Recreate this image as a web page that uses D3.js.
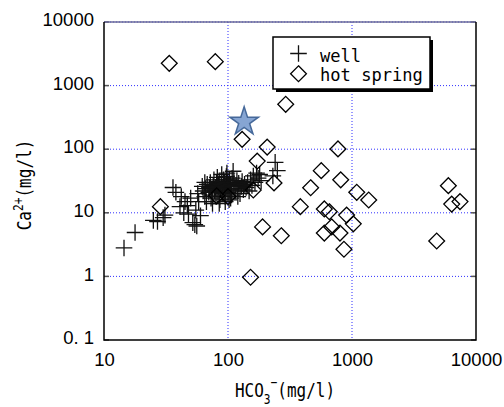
<!DOCTYPE html>
<html>
<head>
<meta charset="utf-8">
<script src="https://cdn.jsdelivr.net/npm/d3@7"></script>
<style>
  html, body { margin: 0; padding: 0; background: #fff; }
  svg { display: block; }
  .tick text { font-family: "Liberation Sans", Arial, sans-serif; font-size: 18.5px; fill: #000; }
  .title { font-family: "DejaVu Sans Mono", monospace; fill: #000; }
</style>
</head>
<body>
<svg id="chart" width="504" height="407"></svg>
<script>
// HCO3- vs Ca2+ concentration (mg/l), log-log
const xTicks = [10, 100, 1000, 10000];
const xTickLabels = ["10", "100", "1000", "10000"];
const yTicks = [0.1, 1, 10, 100, 1000, 10000];
const yTickLabels = ["0. 1", "1", "10", "100", "1000", "10000"];
const seriesNames = ["well", "hot spring"];

// well samples: [HCO3, Ca]
const well = [
  [14.5, 2.8], [17.8, 4.9], [25, 7.6], [27, 7.3], [30, 8.4], [31, 9.2],
  [36, 25], [38, 21], [42, 18], [41, 12.5], [44, 10], [45, 15], [47, 13], [48, 9.5],
  [50, 17], [52, 7], [54, 6.5], [56, 6.2], [55, 11], [58, 15], [60, 9], [57, 20],
  [62, 26], [63, 22], [65, 18], [66, 24], [67, 15], [68, 28], [70, 21], [71, 25],
  [72, 30], [73, 17], [74, 23], [75, 19], [76, 27], [77, 33], [78, 22], [79, 25],
  [80, 18], [81, 29], [82, 36], [83, 21], [84, 26], [85, 31], [86, 16], [87, 23],
  [88, 28], [89, 40], [90, 20], [91, 25], [92, 33], [93, 22], [94, 29], [95, 18],
  [96, 26], [97, 37], [98, 24], [98, 42], [99, 30], [100, 21], [101, 27], [102, 16],
  [103, 33], [104, 23], [105, 28], [107, 19], [108, 35], [110, 26], [112, 30], [114, 22],
  [116, 27], [118, 32], [120, 24], [122, 29], [125, 20], [128, 26], [130, 31], [133, 23],
  [136, 28], [140, 25], [144, 30], [148, 22], [152, 33], [156, 27], [160, 38], [165, 30],
  [170, 42], [175, 35], [180, 40], [185, 32], [240, 62], [250, 46], [230, 38], [110, 45],
  [95, 15], [85, 14], [75, 14], [105, 17], [120, 18], [65, 30]
];

// hot spring samples: [HCO3, Ca]
const hotSpring = [
  [33.6, 2240], [79, 2380], [292, 508], [130, 143], [207, 108], [771, 101], [172, 65],
  [565, 46], [811, 33], [235, 29.5], [464, 24.8], [1092, 21], [1364, 15.9], [28.5, 12.5],
  [383, 12.5], [160, 22.8], [81, 18.5], [100, 18], [190, 6.0], [269, 4.36], [152, 0.97],
  [598, 11.5], [656, 10.4], [905, 9.2], [1024, 6.7], [686, 6.0], [598, 4.8], [800, 4.8],
  [861, 2.67], [5985, 26.7], [6370, 13.7], [7430, 15], [4820, 3.6]
];

// highlighted sample (star)
const highlight = [[135, 270]];

const svg = d3.select("#chart");
const plotLeft = 104, plotRight = 476, plotTop = 22, plotBottom = 340;

const x = d3.scaleLog().domain([10, 10000]).range([plotLeft, plotRight]);
const y = d3.scaleLog().domain([0.1, 10000]).range([plotBottom, plotTop]);

// dotted grid
const grid = svg.append("g").attr("stroke", "#2f2fff").attr("stroke-width", 1)
  .attr("stroke-dasharray", "1,2");
grid.selectAll(".gx").data(xTicks.slice(1, -1)).join("line")
  .attr("x1", d => x(d)).attr("x2", d => x(d)).attr("y1", plotTop).attr("y2", plotBottom);
grid.selectAll(".gy").data(yTicks.slice(1)).join("line")
  .attr("y1", d => y(d)).attr("y2", d => y(d)).attr("x1", plotLeft).attr("x2", plotRight);

// inward tick marks
const tk = svg.append("g").attr("stroke", "#555").attr("stroke-width", 1.5);
tk.selectAll(".tl").data(yTicks).join("line")
  .attr("x1", plotLeft).attr("x2", plotLeft + 5).attr("y1", d => y(d)).attr("y2", d => y(d));
tk.selectAll(".tr").data(yTicks).join("line")
  .attr("x1", plotRight - 5).attr("x2", plotRight).attr("y1", d => y(d)).attr("y2", d => y(d));

// frame: solid left/right/bottom, lighter top
svg.append("line").attr("x1", plotLeft).attr("x2", plotRight).attr("y1", plotTop).attr("y2", plotTop)
  .attr("stroke", "#6a6a98").attr("stroke-width", 1.5);
svg.append("path")
  .attr("d", `M${plotLeft},${plotTop}V${plotBottom}H${plotRight}V${plotTop}`)
  .attr("fill", "none").attr("stroke", "#000").attr("stroke-width", 1.5);

// axis tick labels
const xAxis = d3.axisBottom(x).tickValues(xTicks).tickSize(0).tickPadding(13)
  .tickFormat((d, i) => xTickLabels[i]);
svg.append("g").attr("transform", `translate(0,${plotBottom})`).call(xAxis)
  .call(g => g.select(".domain").remove());

const yAxis = d3.axisLeft(y).tickValues(yTicks).tickSize(0).tickPadding(10)
  .tickFormat((d, i) => yTickLabels[i]);
svg.append("g").attr("transform", `translate(${plotLeft},0)`).call(yAxis)
  .call(g => g.select(".domain").remove())
  .call(g => g.selectAll("text").attr("dy", "0.2em"));

// well: plus markers
const plusR = 8.3;
svg.append("g").attr("stroke", "#111").attr("stroke-width", 1.3).attr("fill", "none")
  .selectAll("path").data(well).join("path")
  .attr("d", d => {
    const cx = x(d[0]), cy = y(d[1]);
    return `M${cx - plusR},${cy}H${cx + plusR}M${cx},${cy - plusR}V${cy + plusR}`;
  });

// hot spring: open diamonds
const diaR = 7.9;
const diamond = (cx, cy) => `M${cx},${cy - diaR}L${cx + diaR},${cy}L${cx},${cy + diaR}L${cx - diaR},${cy}Z`;
svg.append("g").attr("stroke", "#000").attr("stroke-width", 1.3).attr("fill", "none")
  .selectAll("path").data(hotSpring).join("path")
  .attr("d", d => diamond(x(d[0]), y(d[1])));

// star
const starR = 15;
svg.append("g").selectAll("path").data(highlight).join("path")
  .attr("d", d3.symbol(d3.symbolStar, starR * starR / 0.8908130915292852))
  .attr("transform", d => `translate(${x(d[0])},${y(d[1])})`)
  .attr("fill", "#86a5d3").attr("stroke", "#46699a").attr("stroke-width", 1.5);

// legend
const lg = svg.append("g");
lg.append("rect").attr("x", 276).attr("y", 40).attr("width", 157).attr("height", 52).attr("fill", "#000");
lg.append("rect").attr("x", 273).attr("y", 37).attr("width", 157).attr("height", 52)
  .attr("fill", "#fff").attr("stroke", "#000").attr("stroke-width", 1.5);
lg.append("path").attr("d", `M${298.5 - plusR},53.5H${298.5 + plusR}M298.5,${53.5 - plusR}V${53.5 + plusR}`)
  .attr("stroke", "#111").attr("stroke-width", 1.3);
lg.append("path").attr("d", diamond(298.5, 73.7)).attr("fill", "none")
  .attr("stroke", "#000").attr("stroke-width", 1.3);
lg.selectAll("text").data(seriesNames).join("text").attr("class", "title")
  .attr("transform", (d, i) => `translate(320,${i === 0 ? 61.5 : 80.5}) scale(0.95,1)`)
  .attr("font-size", 18).text(d => d);

// x title: HCO3-(mg/l)
const xt = svg.append("text").attr("class", "title").attr("font-size", 20)
  .attr("text-anchor", "middle").attr("transform", "translate(285,397) scale(0.8,1)");
xt.append("tspan").text("HCO");
xt.append("tspan").attr("font-size", 14).attr("dy", 7).text("3");
xt.append("tspan").attr("font-size", 14).attr("dy", -17).text("−");
xt.append("tspan").attr("dy", 10).text("(mg/l)");

// y title: Ca2+(mg/l)
const yt = svg.append("text").attr("class", "title").attr("font-size", 20)
  .attr("text-anchor", "middle").attr("transform", "translate(31,185) rotate(-90) scale(0.8,1)");
yt.append("tspan").text("Ca");
yt.append("tspan").attr("font-size", 14).attr("dy", -8).text("2+");
yt.append("tspan").attr("dy", 8).text("(mg/l)");
</script>
</body>
</html>
